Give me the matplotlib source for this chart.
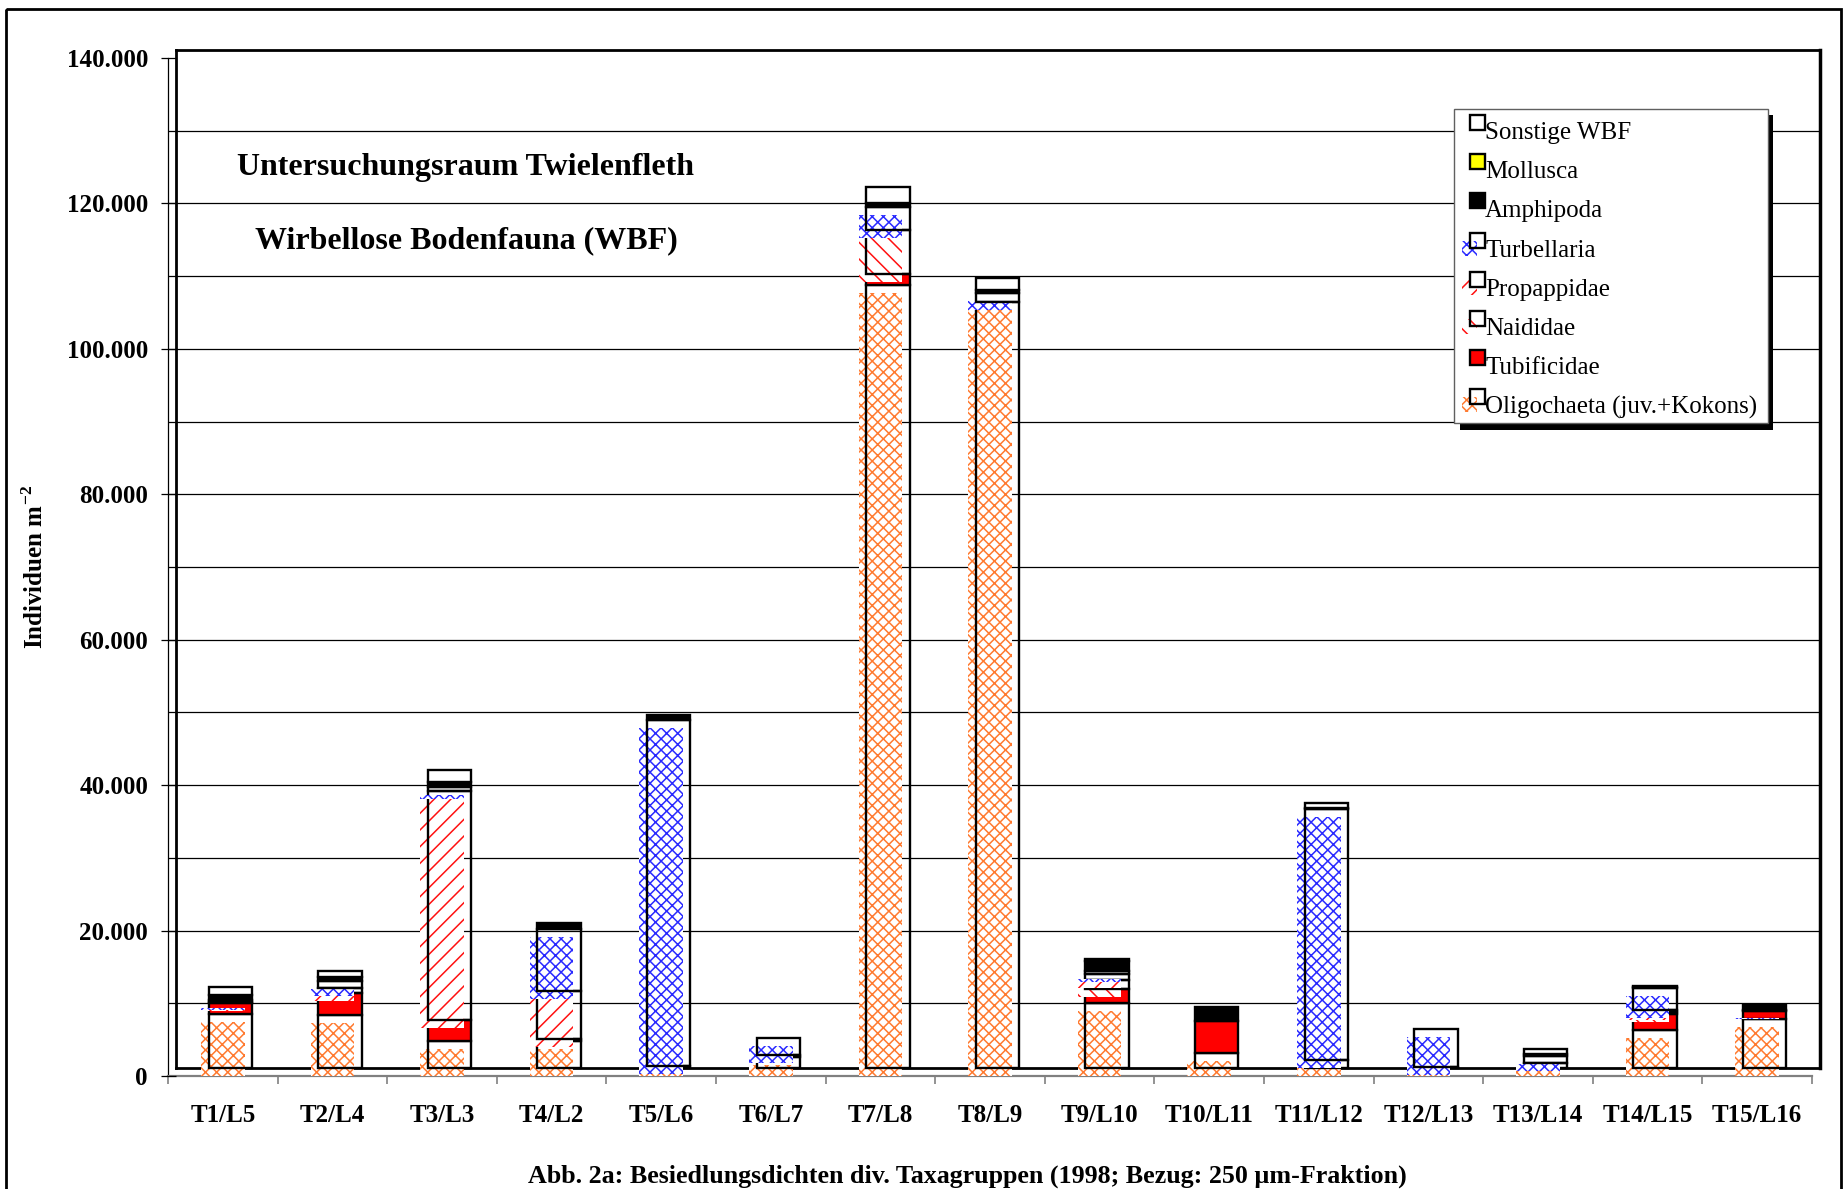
import matplotlib
matplotlib.use('Agg')
import matplotlib.pyplot as plt
from matplotlib.patches import Rectangle
import numpy as np

plt.rcParams['font.family'] = ['Liberation Serif', 'DejaVu Serif']
plt.rcParams['mathtext.fontset'] = 'custom'
plt.rcParams['mathtext.rm'] = 'Liberation Serif'
plt.rcParams['mathtext.bf'] = 'Liberation Serif:bold'
plt.rcParams['hatch.linewidth'] = 1.1

# ---------------- data (Individuen m^-2) ----------------
categories = ["T1/L5", "T2/L4", "T3/L3", "T4/L2", "T5/L6", "T6/L7", "T7/L8", "T8/L9",
              "T9/L10", "T10/L11", "T11/L12", "T12/L13", "T13/L14", "T14/L15", "T15/L16"]
oligochaeta = [7400, 7300, 3700, 3700, 300, 1500, 107700, 105400, 8900, 2100, 1100, 200, 700, 5200, 6800]
tubificidae = [1500, 3000, 2900, 300, 0, 300, 1500, 0, 2000, 4300, 0, 0, 0, 2200, 1000]
naididae = [200, 0, 0, 0, 0, 0, 6100, 0, 1200, 0, 0, 0, 0, 300, 0]
propappidae = [0, 700, 31500, 6600, 0, 0, 0, 0, 800, 0, 0, 0, 0, 300, 0]
turbellaria = [300, 900, 500, 8500, 47600, 2300, 3100, 1200, 500, 0, 34500, 5100, 900, 3000, 200]
amphipoda = [700, 600, 700, 900, 600, 0, 500, 400, 1300, 2000, 200, 0, 300, 200, 700]
mollusca = [0, 0, 0, 0, 0, 0, 0, 0, 0, 0, 0, 0, 0, 0, 0]
sonstige = [1000, 800, 1700, 0, 0, 0, 2300, 1700, 300, 0, 600, 0, 700, 100, 0]

series_names = ["Oligochaeta (juv.+Kokons)", "Tubificidae", "Naididae", "Propappidae",
                "Turbellaria", "Amphipoda", "Mollusca", "Sonstige WBF"]
series_values = [oligochaeta, tubificidae, naididae, propappidae,
                 turbellaria, amphipoda, mollusca, sonstige]
yticks = [0, 20000, 40000, 60000, 80000, 100000, 120000, 140000]
ytick_labels = ["0", "20.000", "40.000", "60.000", "80.000", "100.000", "120.000", "140.000"]

# ---------------- styles ----------------
styles = [
    dict(kind='hatch', color='#FF7A30', hatch='xxx'),
    dict(kind='solid', color='#FF0000'),
    dict(kind='hatch', color='#FF1010', hatch='\\\\'),
    dict(kind='hatch', color='#FF1010', hatch='//'),
    dict(kind='hatch', color='#2A2AFF', hatch='xxx'),
    dict(kind='solid', color='#000000'),
    dict(kind='solid', color='#FFFF00'),
    dict(kind='plain', color='#FFFFFF'),
]

W, H = 1843, 1189
fig = plt.figure(figsize=(W / 100, H / 100), dpi=100)

ax = fig.add_axes([168 / W, 1 - 1076 / H, (1812 - 168) / W, (1076 - 58) / H])
ax.set_xlim(-0.5, 14.5)
ax.set_ylim(0, 140000)
for s in ax.spines.values():
    s.set_visible(False)

dx = 7.5 * 15 / 1644.0
dy = 8 * 140000 / 1018.0
width = 0.396
x = np.arange(len(categories))

# gridlines
ax.hlines(np.arange(10000, 140000, 10000), -0.5, 14.5 + dx, colors='black',
          linewidth=0.9, zorder=0.5, clip_on=False)
# back wall
wl = 2.0
ax.plot([-0.5 + dx, -0.5 + dx], [dy, 140000 + dy], color='black', lw=wl, zorder=0.6, clip_on=False)
ax.plot([-0.5 + dx, 14.5 + dx], [140000 + dy, 140000 + dy], color='black', lw=wl, zorder=0.6, clip_on=False)
ax.plot([14.5 + dx, 14.5 + dx], [dy, 140000 + dy], color='black', lw=wl + 0.5, zorder=0.6, clip_on=False)
ax.plot([-0.5 + dx, 14.5 + dx], [dy, dy], color='black', lw=wl, zorder=0.6, clip_on=False)
# front axes
ax.plot([-0.5, -0.5], [0, 140000], color='black', lw=0.9, zorder=0.6, clip_on=False)
ax.plot([-0.5, 14.5], [0, 0], color='#808080', lw=1.6, zorder=0.6, clip_on=False)

bottoms = np.zeros(len(categories))
for k, (vals, st) in enumerate(zip(series_values, styles)):
    v = np.array(vals, dtype=float)
    m = v > 0
    if m.any():
        if st['kind'] == 'hatch':
            ax.bar(x[m], v[m], width, bottom=bottoms[m], facecolor='white',
                   edgecolor=st['color'], hatch=st['hatch'], linewidth=0,
                   zorder=2 + 2 * k, clip_on=False)
            ax.bar(x[m] + dx, v[m], width, bottom=bottoms[m] + dy, facecolor='none',
                   edgecolor='black', linewidth=1.7, zorder=3 + 2 * k, clip_on=False)
        else:
            ax.bar(x[m] + dx, v[m], width, bottom=bottoms[m] + dy, facecolor=st['color'],
                   edgecolor='black', linewidth=1.7, zorder=3 + 2 * k, clip_on=False)
    bottoms += v

ax.set_yticks(yticks)
ax.set_yticklabels(ytick_labels, fontsize=18, fontweight='bold')
ax.tick_params(axis='y', direction='inout', length=10.8, width=0.9, pad=9)
ax.set_xticks(x)
ax.set_xticklabels(categories, fontsize=18, fontweight='bold')
ax.set_xticks(np.arange(-0.5, 15, 1.0), minor=True)
ax.tick_params(axis='x', which='major', length=0, pad=20)
ax.tick_params(axis='x', which='minor', direction='out', length=5.8, width=1.2, color='#808080')
ax.tick_params(axis='y', which='minor', length=0)

# ---------------- overlay (pixel coordinates) ----------------
ov = fig.add_axes([0, 0, 1, 1], zorder=10)
ov.set_xlim(0, W)
ov.set_ylim(H, 0)
ov.axis('off')

# outer border
ov.add_patch(Rectangle((6, 9), 1835, 1200, fill=False, edgecolor='black', linewidth=2.0))

ov.text(237, 167, "Untersuchungsraum Twielenfleth", fontsize=23, fontweight='bold',
        ha='left', va='center')
ov.text(255, 241, "Wirbellose Bodenfauna (WBF)", fontsize=23, fontweight='bold',
        ha='left', va='center')
ov.text(35, 567, "Individuen m$^{\\mathbf{-2}}$", fontsize=18, fontweight='bold', rotation=90,
        ha='center', va='center')
ov.text(967, 1176, "Abb. 2a: Besiedlungsdichten div. Taxagruppen (1998; Bezug: 250 \u00b5m-Fraktion)",
        fontsize=18.7, fontweight='bold', ha='center', va='center')

# legend
ov.add_patch(Rectangle((1460, 115), 313, 315, facecolor='black', edgecolor='none'))
ov.add_patch(Rectangle((1454, 109), 314, 314, facecolor='white', edgecolor='#606060', linewidth=1.0))
order = [7, 6, 5, 4, 3, 2, 1, 0]
for j, k in enumerate(order):
    st = styles[k]
    sy = 115 + 39.2 * j
    if st['kind'] == 'hatch':
        ov.add_patch(Rectangle((1462, sy + 8), 15, 15, facecolor='white', edgecolor=st['color'],
                               hatch=st['hatch'], linewidth=0))
        ov.add_patch(Rectangle((1470, sy), 15, 15, facecolor='none', edgecolor='black', linewidth=1.7))
    else:
        ov.add_patch(Rectangle((1470, sy), 15, 15, facecolor=st['color'], edgecolor='black', linewidth=1.7))
    ov.text(1485, sy + 24, series_names[k], fontsize=18, ha='left', va='baseline')

fig.savefig('out.png', dpi=100, facecolor='white')
